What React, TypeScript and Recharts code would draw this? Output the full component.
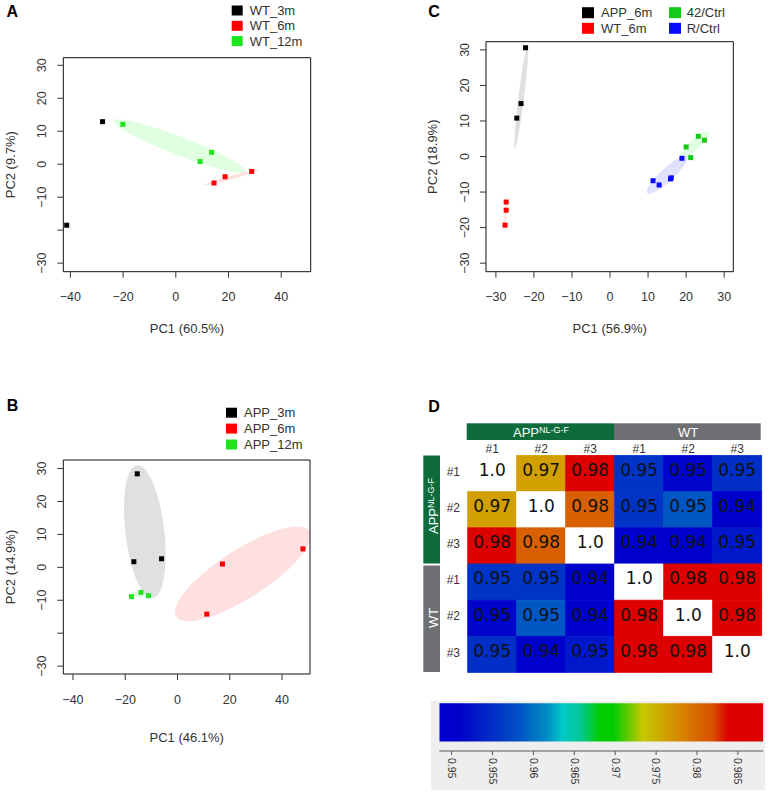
import React from 'react';
import { ScatterChart, Scatter, XAxis, YAxis, ReferenceArea, BarChart, Bar, ComposedChart } from 'recharts';

const SANS = '"Liberation Sans", Arial, Helvetica, sans-serif';
const TXT = '#333333';

type Pt = { x: number; y: number };
type Ell = { cx: number; cy: number; ax: number; ay: number; bx: number; by: number; color: string };

// ---------------- Panel A (WT) ----------------
const aWT3m: Pt[] = [{ x: -27.8, y: 12.9 }, { x: -41.4, y: -18.5 }];
const aWT6m: Pt[] = [{ x: 14.5, y: -5.7 }, { x: 18.7, y: -3.8 }, { x: 28.8, y: -2.2 }];
const aWT12m: Pt[] = [{ x: -20.1, y: 12.1 }, { x: 9.2, y: 0.8 }, { x: 13.6, y: 3.6 }];
const aEllipses: Ell[] = [
  { cx: 1.4, cy: 5.5, ax: 25, ay: -7.7, bx: 1.3, by: 2.6, color: '#00ff00' },
  { cx: 21.2, cy: -4, ax: 10.3, ay: 2.3, bx: 0.2, by: -0.55, color: '#ff0000' },
];
const aLegend = ['WT_3m', 'WT_6m', 'WT_12m'];

// ---------------- Panel B (APP) ----------------
const bAPP3m: Pt[] = [{ x: -15.4, y: 28.4 }, { x: -16.7, y: 1.7 }, { x: -6.1, y: 2.6 }];
const bAPP6m: Pt[] = [{ x: 17.2, y: 1.0 }, { x: 48.0, y: 5.6 }, { x: 11.2, y: -14.2 }];
const bAPP12m: Pt[] = [{ x: -17.6, y: -8.9 }, { x: -14.0, y: -7.6 }, { x: -11.1, y: -8.6 }];
const bEllipses: Ell[] = [
  { cx: -12.5, cy: 10.8, ax: -3, ay: 20.2, bx: 7.4, by: 0.7, color: '#000000' },
  { cx: 25, cy: -2, ax: 25.5, ay: 13, bx: 5, by: -6.2, color: '#ff0000' },
  { cx: -14.3, cy: -8.3, ax: 3.6, ay: -0.2, bx: 0.0, by: 0.8, color: '#00ff00' },
];
const bLegend = ['APP_3m', 'APP_6m', 'APP_12m'];

// ---------------- Panel C ----------------
const cAPP6m: Pt[] = [{ x: -22.2, y: 30.6 }, { x: -23.4, y: 14.9 }, { x: -24.5, y: 10.8 }];
const cWT6m: Pt[] = [{ x: -27.3, y: -12.8 }, { x: -27.3, y: -15.1 }, { x: -27.6, y: -19.3 }];
const c42Ctrl: Pt[] = [{ x: 20, y: 2.7 }, { x: 21.2, y: -0.3 }, { x: 23.2, y: 5.7 }, { x: 24.8, y: 4.6 }];
const cRCtrl: Pt[] = [{ x: 11.3, y: -6.8 }, { x: 12.9, y: -8.0 }, { x: 15.9, y: -6.3 }, { x: 16.1, y: -6.0 }, { x: 18.9, y: -0.5 }];
const cEllipses: Ell[] = [
  { cx: -23.35, cy: 16.65, ax: 1.65, ay: 14.25, bx: 0.73, by: -0.1, color: '#000000' },
  { cx: -27.45, cy: -16, ax: 0.15, ay: 3.4, bx: 0.25, by: 0, color: '#ff0000' },
  { cx: 15, cy: -5.15, ax: 5.2, ay: 5.15, bx: 1.16, by: -1.35, color: '#0000ff' },
  { cx: 22.2, cy: 3.3, ax: 3.8, ay: 3.7, bx: 0.9, by: -1.04, color: '#00ff00' },
];
const cLegend = ['APP_6m', 'WT_6m', '42/Ctrl', 'R/Ctrl'];

// ---------------- Axis ticks ----------------
const abXTicks = [-40, -20, 0, 20, 40];
const abXLabels = ['−40', '−20', '0', '20', '40'];
const pcaYTicks = [30, 20, 10, 0, -10, -20, -30];
const abYLabels = ['30', '20', '10', '0', '−10', '', '−30'];
const cXTicks = [-30, -20, -10, 0, 10, 20, 30];
const cXLabels = ['−30', '−20', '−10', '0', '10', '20', '30'];
const cYLabels = ['30', '20', '10', '0', '−10', '−20', '−30'];

// ---------------- Panel D (correlation heatmap) ----------------
const hmRows = ['a1', 'a2', 'a3', 'w1', 'w2', 'w3'];
const hmRowLabels = ['#1', '#2', '#3', '#1', '#2', '#3'];
const hmColLabels = ['#1', '#2', '#3', '#1', '#2', '#3'];
const corr = [
  [1.0, 0.9761, 0.985, 0.9555, 0.9512, 0.955],
  [0.9761, 1.0, 0.9807, 0.9555, 0.9585, 0.946],
  [0.985, 0.9807, 1.0, 0.9445, 0.945, 0.953],
  [0.9555, 0.9555, 0.9445, 1.0, 0.985, 0.985],
  [0.9512, 0.9585, 0.945, 0.985, 1.0, 0.985],
  [0.955, 0.946, 0.953, 0.985, 0.985, 1.0],
];

// colour bar
const cbMin = 0.9485;
const cbMax = 0.9881;
const cbTicks = [0.95, 0.955, 0.96, 0.965, 0.97, 0.975, 0.98, 0.985];
const cbTickLabels = ['0.95', '0.955', '0.96', '0.965', '0.97', '0.975', '0.98', '0.985'];
const cbStops = [
  { v: 0.9485, c: '#0000cc' },
  { v: 0.9508, c: '#0000cc' },
  { v: 0.9581, c: '#0050c4' },
  { v: 0.9618, c: '#0090c4' },
  { v: 0.9635, c: '#00c8c8' },
  { v: 0.9659, c: '#00c890' },
  { v: 0.9681, c: '#00cc00' },
  { v: 0.9698, c: '#00cc00' },
  { v: 0.9734, c: '#c8c800' },
  { v: 0.9783, c: '#d88000' },
  { v: 0.9819, c: '#d85000' },
  { v: 0.9838, c: '#dd0000' },
  { v: 0.9881, c: '#dd0000' },
];
// colour-bar strip outline (value range x, band 0.2..1 in the strip's own y units)
const cbStrip: Pt[] = [
  { x: cbMin, y: 0.2 }, { x: cbMax, y: 0.2 }, { x: cbMax, y: 1 }, { x: cbMin, y: 1 },
];

// ---------------- helpers ----------------
function ellipsePts(e: Ell): Pt[] {
  const n = 72;
  const out: Pt[] = [];
  for (let i = 0; i < n; i++) {
    const t = (i / n) * Math.PI * 2;
    out.push({ x: e.cx + e.ax * Math.cos(t) + e.bx * Math.sin(t), y: e.cy + e.ay * Math.cos(t) + e.by * Math.sin(t) });
  }
  return out;
}

function hexToRgb(h: string) {
  return [parseInt(h.slice(1, 3), 16), parseInt(h.slice(3, 5), 16), parseInt(h.slice(5, 7), 16)];
}
function heatColor(v: number): string {
  if (v >= 0.999) return '#ffffff';
  const x = Math.min(cbMax, Math.max(cbMin, v));
  for (let i = 0; i < cbStops.length - 1; i++) {
    const a = cbStops[i], b = cbStops[i + 1];
    if (x >= a.v && x <= b.v) {
      const t = (x - a.v) / (b.v - a.v);
      const ca = hexToRgb(a.c), cb = hexToRgb(b.c);
      const m = ca.map((q, k) => Math.round(q + (cb[k] - q) * t));
      return `rgb(${m[0]},${m[1]},${m[2]})`;
    }
  }
  return cbStops[cbStops.length - 1].c;
}
function corrLabel(v: number) {
  if (v >= 0.999) return '1.0';
  return (Math.floor(v * 100 + 1e-9) / 100).toFixed(2);
}

const square = (color: string) => (p: any) => (
  <rect x={p.cx - 2.5} y={p.cy - 2.5} width={5} height={5} fill={color} />
);
const emptyShape = () => <g />;

type Series = { data: Pt[]; color: string };

function PcaPanel(props: {
  left: number; top: number; width: number; height: number;
  box: { l: number; t: number; r: number; b: number };
  xDomain: [number, number]; yDomain: [number, number];
  xTicks: number[]; xLabels: string[]; yTicks: number[]; yLabels: string[];
  series: Series[]; ellipses: Ell[];
}) {
  const { left, top, width, height, box, xDomain, yDomain, xTicks, xLabels, yTicks, yLabels, series, ellipses } = props;
  const YAW = 40, XAH = 40;
  const margin = {
    left: box.l - left - YAW,
    top: box.t - top,
    right: left + width - box.r,
    bottom: top + height - box.b - XAH,
  };
  const XTick = (p: any) => (
    <text x={p.x} y={p.y + 21.5} textAnchor="middle" fontSize={12.5} fill={TXT} fontFamily={SANS}>
      {xLabels[xTicks.indexOf(p.payload.value)]}
    </text>
  );
  const YTick = (p: any) => {
    const bx = p.x - 9;
    return (
      <text x={bx} y={p.y} transform={`rotate(-90 ${bx} ${p.y})`} textAnchor="middle" fontSize={12.5} fill={TXT} fontFamily={SANS}>
        {yLabels[yTicks.indexOf(p.payload.value)]}
      </text>
    );
  };
  return (
    <div style={{ position: 'absolute', left, top, width, height }}>
      <ScatterChart width={width} height={height} margin={margin}>
        <XAxis type="number" dataKey="x" domain={xDomain} ticks={xTicks} allowDataOverflow axisLine={false}
          tickLine={{ stroke: '#333' }} tickSize={6} tickMargin={2} height={XAH} tick={XTick} interval={0} />
        <YAxis type="number" dataKey="y" domain={yDomain} ticks={yTicks} allowDataOverflow axisLine={false}
          tickLine={{ stroke: '#333' }} tickSize={6} tickMargin={2} width={YAW} tick={YTick} interval={0} />
        {ellipses.map((e, i) => (
          <Scatter key={'e' + i} data={ellipsePts(e)} shape={emptyShape} isAnimationActive={false}
            line={{ fill: e.color, fillOpacity: 0.12, stroke: 'none' }} lineJointType="linearClosed" />
        ))}
        {series.map((s, i) => (
          <Scatter key={'s' + i} data={s.data} shape={square(s.color)} fill={s.color} isAnimationActive={false} />
        ))}
        <ReferenceArea x1={xDomain[0]} x2={xDomain[1]} y1={yDomain[0]} y2={yDomain[1]} fill="none" fillOpacity={0}
          stroke="#111" strokeWidth={1} ifOverflow="visible" />
      </ScatterChart>
    </div>
  );
}

function Heatmap() {
  const data = hmRows.map((id, r) => {
    const o: any = { id };
    corr[r].forEach((v, c) => { o['v' + c] = v; });
    return o;
  });
  const cellShape = (col: number) => (p: any) => {
    const r = hmRows.indexOf(p.payload ? p.payload.id : hmRows[p.index]);
    const v = corr[r][col];
    const fill = heatColor(v);
    return (
      <g>
        <rect x={p.x} y={p.y} width={p.width} height={p.height} fill={fill} stroke={fill} strokeWidth={0.8} />
        <text x={p.x + p.width / 2} y={p.y + p.height / 2 + 2.4} textAnchor="middle" fontSize={17}
          fontFamily='"DejaVu Sans", sans-serif' fill="#111">{corrLabel(v)}</text>
      </g>
    );
  };
  const ColTick = (p: any) => (
    <text x={p.x} y={p.y - 2.9} textAnchor="middle" fontSize={12} fill={TXT} fontFamily={SANS}>
      {hmColLabels[Math.floor(p.payload.value)]}
    </text>
  );
  const RowTick = (p: any) => (
    <text x={p.x - 7.7} y={p.y + 2.1} textAnchor="end" fontSize={12} fill={TXT} fontFamily={SANS}>
      {hmRowLabels[hmRows.indexOf(p.payload.value)]}
    </text>
  );
  const cols = [0, 1, 2, 3, 4, 5];
  return (
    <div style={{ position: 'absolute', left: 415, top: 420, width: 355, height: 260 }}>
      <BarChart width={355} height={260} data={data} layout="vertical" barCategoryGap={0}
        margin={{ top: 15.5, left: 22.7, right: 8.3, bottom: 7.5 }}>
        <XAxis type="number" orientation="top" domain={[0, 6]} ticks={[0.5, 1.5, 2.5, 3.5, 4.5, 5.5]} height={20}
          axisLine={false} tickLine={false} tickSize={0} tickMargin={0} tick={ColTick} interval={0} />
        <YAxis type="category" dataKey="id" width={30} axisLine={false} tickLine={false} tickSize={0} tickMargin={0}
          tick={RowTick} interval={0} />
        {cols.map((c) => (
          <Bar key={c} dataKey={() => 1} stackId="hm" shape={cellShape(c)} isAnimationActive={false} />
        ))}
      </BarChart>
    </div>
  );
}

function ColorBar() {
  const CbTick = (p: any) => {
    const bx = p.x - 3.7;
    const ty = p.y + 1;
    return (
      <text x={bx} y={ty} transform={`rotate(90 ${bx} ${ty})`} textAnchor="start" fontSize={10.5} fill={TXT} fontFamily={SANS}>
        {cbTickLabels[cbTicks.indexOf(p.payload.value)]}
      </text>
    );
  };
  const stripLine = (p: any) => {
    const pts: { x: number; y: number }[] = p.points || [];
    if (!pts.length) return <g />;
    const d = 'M' + pts.map((q) => `${q.x},${q.y}`).join('L') + 'Z';
    return (
      <g>
        <defs>
          <linearGradient id="cbGradLocal" x1="0" y1="0" x2="1" y2="0">
            {cbStops.map((s, i) => (
              <stop key={i} offset={(s.v - cbMin) / (cbMax - cbMin)} stopColor={s.c} />
            ))}
          </linearGradient>
        </defs>
        <path d={d} fill="url(#cbGradLocal)" stroke="none" />
      </g>
    );
  };
  return (
    <>
      <div style={{ position: 'absolute', left: 431, top: 701, width: 334, height: 89, background: '#eeeeee' }} />
      <div style={{ position: 'absolute', left: 425, top: 695, width: 345, height: 99 }}>
        <ScatterChart width={345} height={99} margin={{ top: 8.3, left: 14.3, right: 6.7, bottom: 8 }}>
          <XAxis type="number" dataKey="x" domain={[cbMin, cbMax]} ticks={cbTicks} allowDataOverflow height={35}
            tickSize={4} tickMargin={2} axisLine={{ stroke: '#555' }} tickLine={{ stroke: '#555' }} tick={CbTick} interval={0} />
          <YAxis type="number" dataKey="y" domain={[0, 1]} hide />
          <Scatter data={cbStrip} shape={emptyShape} line={stripLine} isAnimationActive={false} />
        </ScatterChart>
      </div>
    </>
  );
}

const BLACK = '#000000';
const RED = '#ff0000';
const GREEN = '#1ee61e';
const GREEN_C = '#16c916';
const BLUE = '#0a0aff';

function Legend({ items, x, textX, y0, step, w, h }: { items: { label: string; color: string }[]; x: number; textX: number; y0: number; step: number; w: number; h: number }) {
  return (
    <g>
      {items.map((it, i) => (
        <g key={i}>
          <rect x={x} y={y0 + i * step - h / 2} width={w} height={h} fill={it.color} />
          <text x={textX} y={y0 + i * step + 4.6} fontSize={13} fill={TXT} fontFamily={SANS}>{it.label}</text>
        </g>
      ))}
    </g>
  );
}

function Overlay() {
  const letter = { fontSize: 16, fontWeight: 700, fontFamily: SANS, fill: '#000' } as any;
  const title = { fontSize: 13, fontFamily: SANS, fill: TXT } as any;
  return (
    <svg width={770} height={794} style={{ position: 'absolute', left: 0, top: 0, pointerEvents: 'none' }}>
      <text x={6.5} y={16.7} {...letter}>A</text>
      <text x={428.3} y={16.7} {...letter}>C</text>
      <text x={6.7} y={410.7} {...letter}>B</text>
      <text x={428.3} y={411.7} {...letter}>D</text>

      <Legend items={[{ label: aLegend[0], color: BLACK }, { label: aLegend[1], color: RED }, { label: aLegend[2], color: GREEN }]}
        x={231.7} textX={249.7} y0={10.5} step={15.3} w={11} h={10} />
      <Legend items={[{ label: bLegend[0], color: BLACK }, { label: bLegend[1], color: RED }, { label: bLegend[2], color: GREEN }]}
        x={226} textX={244} y0={412.7} step={15.9} w={11} h={10} />
      <Legend items={[{ label: cLegend[0], color: BLACK }, { label: cLegend[1], color: RED }]}
        x={582} textX={601} y0={12.7} step={15.6} w={12} h={11} />
      <Legend items={[{ label: cLegend[2], color: GREEN_C }, { label: cLegend[3], color: BLUE }]}
        x={669} textX={686.7} y0={12.7} step={15.6} w={12} h={11} />

      <text x={187} y={332.5} textAnchor="middle" {...title}>PC1 (60.5%)</text>
      <text x={14.7} y={164.7} textAnchor="middle" transform="rotate(-90 14.7 164.7)" {...title}>PC2 (9.7%)</text>
      <text x={609.7} y={332.5} textAnchor="middle" {...title}>PC1 (56.9%)</text>
      <text x={437.5} y={156.7} textAnchor="middle" transform="rotate(-90 437.5 156.7)" {...title}>PC2 (18.9%)</text>
      <text x={186.7} y={742} textAnchor="middle" {...title}>PC1 (46.1%)</text>
      <text x={14.7} y={567} textAnchor="middle" transform="rotate(-90 14.7 567)" {...title}>PC2 (14.9%)</text>

      {/* heatmap group bars */}
      <rect x={466.7} y={423.3} width={147.3} height={16.7} fill="#0d6b3c" />
      <rect x={614} y={423.3} width={146.7} height={16.7} fill="#6e6f72" />
      <text x={541} y={436.7} textAnchor="middle" fontSize={13} fill="#fff" fontFamily={SANS}>
        APP<tspan fontSize={9} dy={-4.2}>NL-G-F</tspan>
      </text>
      <text x={688} y={436.7} textAnchor="middle" fontSize={13} fill="#fff" fontFamily={SANS}>WT</text>
      <rect x={423.3} y={455.5} width={16.7} height={108} fill="#0d6b3c" />
      <rect x={423.3} y={565.5} width={16.7} height={106.5} fill="#6e6f72" />
      <text x={438.3} y={506} textAnchor="middle" transform="rotate(-90 438.3 506)" fontSize={13} fill="#fff" fontFamily={SANS}>
        APP<tspan fontSize={9} dy={-4.2}>NL-G-F</tspan>
      </text>
      <text x={438.3} y={618} textAnchor="middle" transform="rotate(-90 438.3 618)" fontSize={13} fill="#fff" fontFamily={SANS}>WT</text>
    </svg>
  );
}

export default function App() {
  return (
    <div style={{ position: 'absolute', left: 0, top: 0, width: 770, height: 794, background: '#fff', overflow: 'hidden' }}>
      <PcaPanel left={0} top={0} width={385} height={340}
        box={{ l: 63.3, t: 57.7, r: 310.7, b: 271.7 }}
        xDomain={[-42.7, 51.2]} yDomain={[-32.6, 32.3]}
        xTicks={abXTicks} xLabels={abXLabels} yTicks={pcaYTicks} yLabels={abYLabels}
        series={[{ data: aWT3m, color: BLACK }, { data: aWT6m, color: RED }, { data: aWT12m, color: GREEN }]}
        ellipses={aEllipses} />
      <PcaPanel left={385} top={0} width={385} height={340}
        box={{ l: 486, t: 41.7, r: 733.3, b: 271.7 }}
        xDomain={[-32.6, 32.4]} yDomain={[-32.4, 32.3]}
        xTicks={cXTicks} xLabels={cXLabels} yTicks={pcaYTicks} yLabels={cYLabels}
        series={[{ data: cAPP6m, color: BLACK }, { data: cWT6m, color: RED }, { data: c42Ctrl, color: GREEN_C }, { data: cRCtrl, color: BLUE }]}
        ellipses={cEllipses} />
      <PcaPanel left={0} top={390} width={385} height={350}
        box={{ l: 63.3, t: 460, r: 310, b: 674 }}
        xDomain={[-43.7, 50.7]} yDomain={[-32.4, 32.6]}
        xTicks={abXTicks} xLabels={abXLabels} yTicks={pcaYTicks} yLabels={abYLabels}
        series={[{ data: bAPP3m, color: BLACK }, { data: bAPP6m, color: RED }, { data: bAPP12m, color: GREEN }]}
        ellipses={bEllipses} />
      <Heatmap />
      <ColorBar />
      <Overlay />
    </div>
  );
}
